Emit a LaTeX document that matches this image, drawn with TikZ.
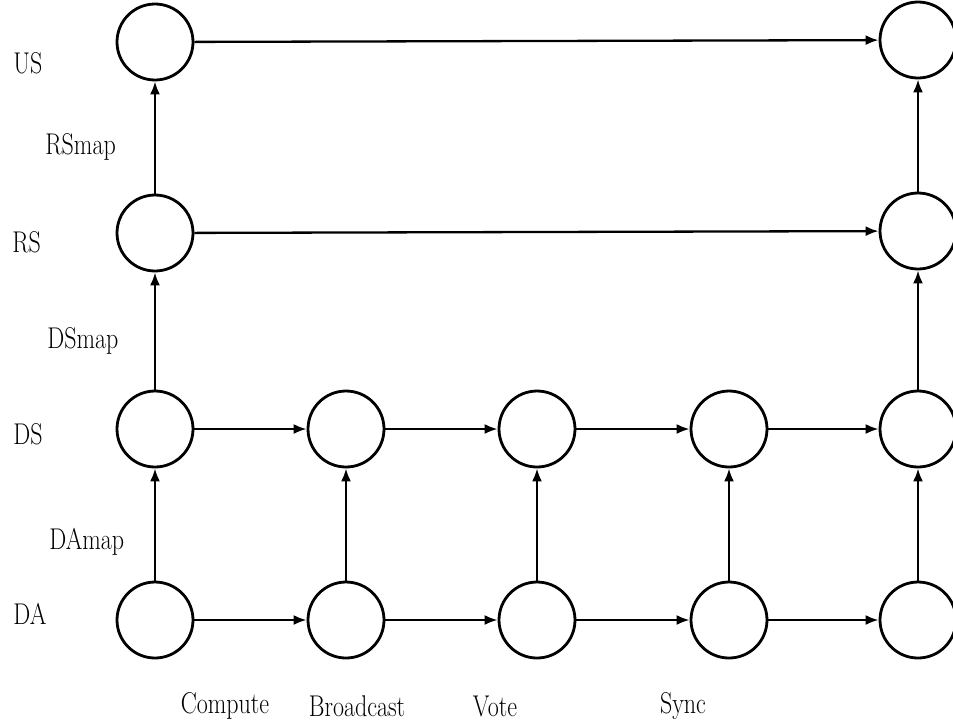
\documentclass[tikz,border=0pt]{standalone}
\usepackage{graphicx}
\usetikzlibrary{arrows.meta}
\newcommand{\lbl}[1]{\scalebox{0.8}[1]{#1}}
\begin{document}
\begin{tikzpicture}[x=0.5pt,y=-0.5pt,
  state/.style={circle,draw,line width=1.4pt,minimum size=38pt,inner sep=0pt},
  flow/.style={line width=1.15pt,-{Latex[length=6.5pt,width=5pt]}},
  rowlabel/.style={anchor=west,inner sep=0pt,font=\fontsize{15}{17}\selectfont},
  steplabel/.style={anchor=center,inner sep=0pt,font=\fontsize{15}{17}\selectfont}]
\useasboundingbox (0,0) rectangle (953,725);

% state circles
\node[state] (us1) at (155,42) {};
\node[state] (us5) at (918,40) {};
\node[state] (rs1) at (155,233) {};
\node[state] (rs5) at (918,231) {};
\foreach \i/\x in {1/155,2/346,3/537,4/729,5/918}{
  \node[state] (ds\i) at (\x,429) {};
  \node[state] (da\i) at (\x,620) {};
}

% horizontal transitions
\draw[flow] (us1) -- (us5);
\draw[flow] (rs1) -- (rs5);
\foreach \i/\j in {1/2,2/3,3/4,4/5}{
  \draw[flow] (ds\i) -- (ds\j);
  \draw[flow] (da\i) -- (da\j);
}

% vertical mappings
\foreach \i in {1,2,3,4,5}{
  \draw[flow] (da\i) -- (ds\i);
}
\draw[flow] (ds1) -- (rs1);
\draw[flow] (rs1) -- (us1);
\draw[flow] (ds5) -- (rs5);
\draw[flow] (rs5) -- (us5);

% row labels
\node[rowlabel] (lus) at (13,63) {\lbl{US}};
\node[rowlabel] (lrs) at (12,242) {\lbl{RS}};
\node[rowlabel] (lds) at (13,434) {\lbl{DS}};
\node[rowlabel] (lda) at (13,614) {\lbl{DA}};
\node[rowlabel] (lrsmap) at (45,147) {\lbl{RSmap}};
\node[rowlabel] (ldsmap) at (47,341) {\lbl{DSmap}};
\node[rowlabel] (ldamap) at (49,542) {\lbl{DAmap}};

% step labels
\node[steplabel] (lcomp) at (225,706) {\lbl{Compute}};
\node[steplabel] (lbcast) at (357,706) {\lbl{Broadcast}};
\node[steplabel] (lvote) at (495,706) {\lbl{Vote}};
\node[steplabel] (lsync) at (683,706) {\lbl{Sync}};
\end{tikzpicture}
\end{document}
